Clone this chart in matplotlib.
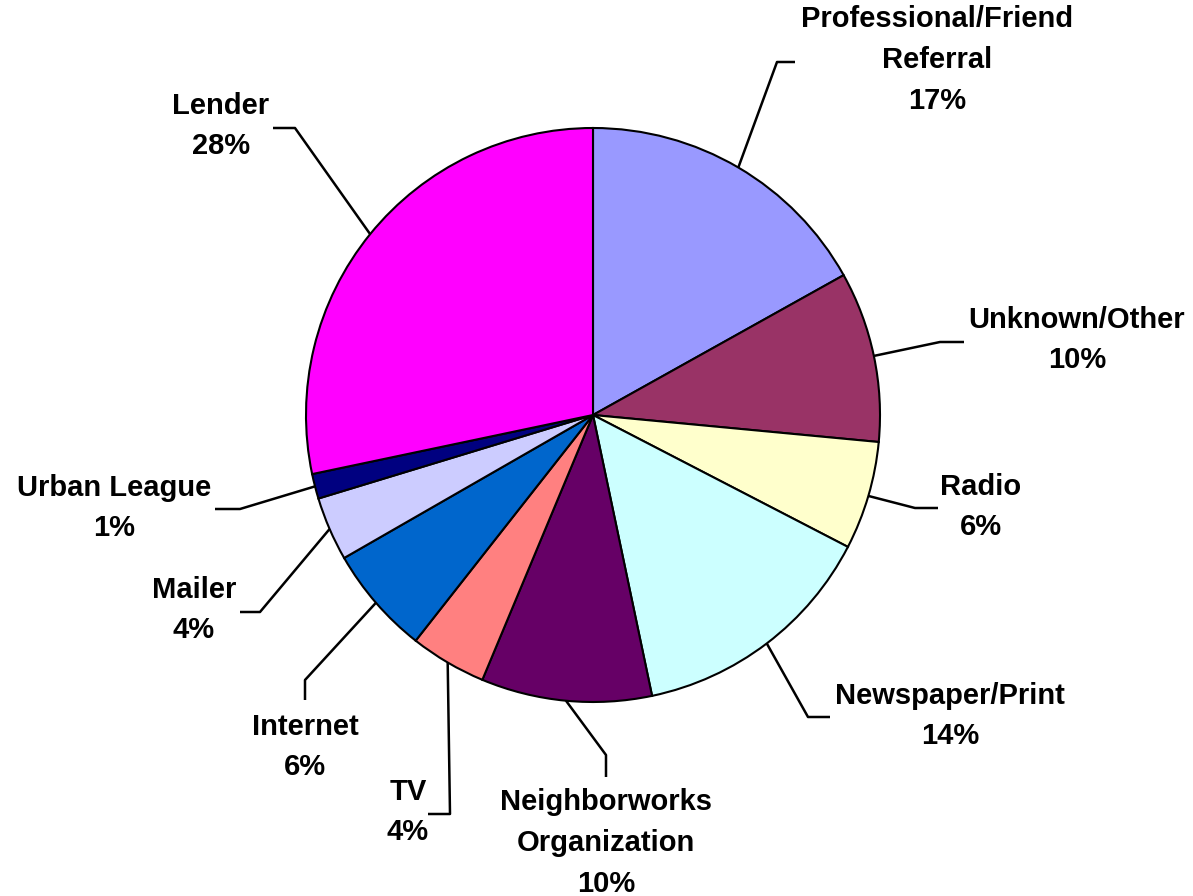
import numpy as np
import matplotlib.pyplot as plt

W, H = 1193, 896

# referral sources, clockwise from 12 o'clock
sources = ["Professional/Friend\nReferral", "Unknown/Other", "Radio", "Newspaper/Print",
           "Neighborworks\nOrganization", "TV", "Internet", "Mailer", "Urban League", "Lender"]
shares = [16.9, 9.6, 6.1, 14.1, 9.6, 4.3, 6.1, 3.6, 1.4, 28.3]
colors = ["#9999FF", "#993366", "#FFFFCC", "#CCFFFF", "#660066",
          "#FF8080", "#0066CC", "#CCCCFF", "#000080", "#FF00FF"]

# label layout in pixel coords (y down): label centre, leader elbow, leader end
label_xy = [(937, 60), (1077, 340), (981, 507), (950, 716), (606, 843),
            (408, 812), (305, 747), (194, 610), (114, 508), (221, 126)]
elbows = [(777, 62), (940, 342), (915, 508), (808, 717), (606, 755),
          (450, 814), (305, 680), (260, 612), (240, 509), (295, 128)]
ends = [(795, 62), (964, 342), (938, 508), (830, 717), (606, 777),
        (428, 814), (305, 700), (240, 612), (215, 509), (273, 128)]

center_px = (593, 415)
radius = 287


def px(p):
    return p[0], H - p[1]


fig = plt.figure(figsize=(W / 100, H / 100), dpi=100)
ax = fig.add_axes([0, 0, 1, 1])

wedges, _ = ax.pie(shares, colors=colors, startangle=90, counterclock=False,
                   center=px(center_px), radius=radius,
                   wedgeprops=dict(edgecolor="black", linewidth=1.5), frame=True)
ax.set_xlim(0, W)
ax.set_ylim(0, H)
ax.set_aspect("equal")
ax.axis("off")

cx, cy = px(center_px)
for w, name, val, lxy, el, en in zip(wedges, sources, shares, label_xy, elbows, ends):
    # leader starts at the middle of the wedge's arc
    mid = np.deg2rad((w.theta1 + w.theta2) / 2)
    start = (cx + radius * np.cos(mid), cy + radius * np.sin(mid))
    pts = [start, px(el), px(en)]
    ax.plot([p[0] for p in pts], [p[1] for p in pts], color="black", lw=1.8,
            solid_capstyle="butt", zorder=3)
    ax.text(*px(lxy), f"{name}\n{round(val)}%", ha="center", va="center",
            fontsize=21, fontweight="bold", family="Liberation Sans",
            linespacing=1.57, color="black")

fig.savefig("out.png", dpi=100, facecolor="white")
